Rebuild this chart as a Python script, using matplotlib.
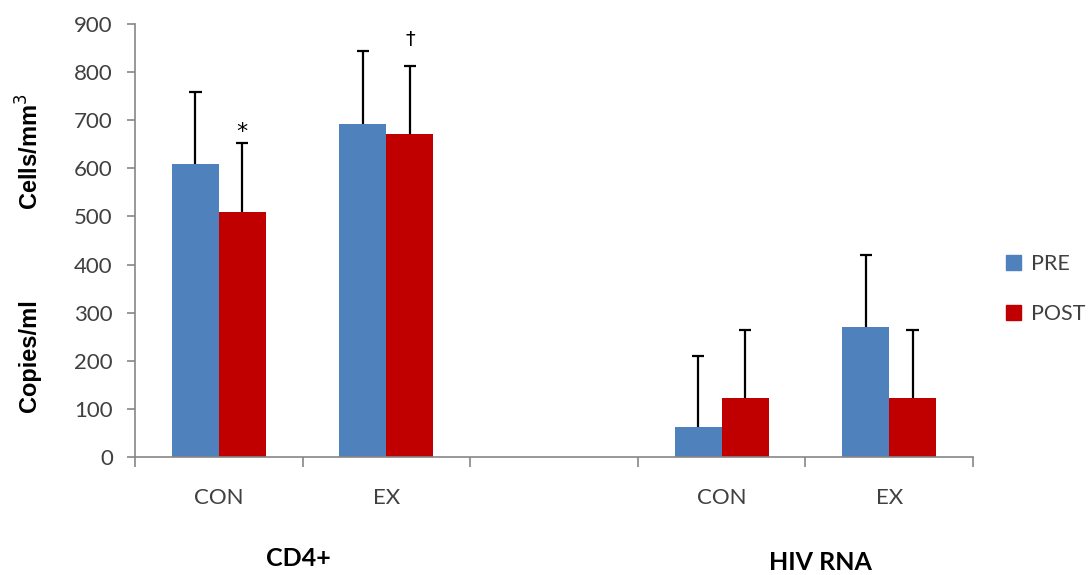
import matplotlib
matplotlib.use("Agg")
import matplotlib.pyplot as plt
from matplotlib.patches import Patch
import numpy as np

categories = ["CON", "EX", "", "CON", "EX"]
pre_values = [610, 693, np.nan, 63, 270]
post_values = [510, 672, np.nan, 123, 123]
pre_err = [148, 150, np.nan, 147, 150]
post_err = [142, 141, np.nan, 140, 140]
y_ticks = [0, 100, 200, 300, 400, 500, 600, 700, 800, 900]
group_labels = ["CD4+", "HIV RNA"]

BLUE = "#4F81BD"
RED = "#C00000"
GREY = "#868686"
TXT = "#404040"

fig = plt.figure(figsize=(10.88, 5.75), dpi=100)
ax = fig.add_axes([135/1088, 1-457/575, (973-135)/1088, (457-24)/575])

x = np.arange(len(categories))
w = 0.28
ax.bar(x - w/2, pre_values, w, color=BLUE, label="PRE")
ax.bar(x + w/2, post_values, w, color=RED, label="POST")

pre_top = np.array(pre_values) + np.array(pre_err)
post_top = np.array(post_values) + np.array(post_err)
cap = 0.037
for xs, vals, tops in [(x - w/2, pre_values, pre_top), (x + w/2, post_values, post_top)]:
    ok = ~np.isnan(tops)
    ax.vlines(xs[ok], np.array(vals)[ok], tops[ok], color="black", lw=1.6, zorder=3)
    ax.hlines(tops[ok], xs[ok] - cap, xs[ok] + cap, color="black", lw=1.6, zorder=3)

# significance marks
ax.annotate("*", (x[0] + w/2, post_top[0]), xytext=(0, 1), textcoords="offset points",
            ha="center", va="bottom", fontsize=16, color="black", family="DejaVu Sans")
ax.annotate("\u2020", (x[1] + w/2, post_top[1]), xytext=(0, 12), textcoords="offset points",
            ha="center", va="bottom", fontsize=14, color="black", family="DejaVu Sans")

ax.set_xlim(-0.5, len(categories) - 0.5)
ax.set_ylim(0, 900)
ax.set_yticks(y_ticks)
ax.set_yticklabels([str(v) for v in y_ticks], fontsize=16, color=TXT, family="Lato")
ax.set_xticks(x)
ax.set_xticklabels(categories, fontsize=16, color=TXT, family="Lato")
ax.set_xticks(np.arange(len(categories) + 1) - 0.5, minor=True)
ax.tick_params(axis="x", which="major", length=0, pad=22)
ax.tick_params(axis="x", which="minor", length=7, color=GREY, width=1.2)
ax.tick_params(axis="y", length=6, color=GREY, width=1.2, pad=10)

for s in ["top", "right"]:
    ax.spines[s].set_visible(False)
for s in ["left", "bottom"]:
    ax.spines[s].set_color(GREY)
    ax.spines[s].set_linewidth(1.2)

# y labels
fig.text(30/1088, 1-152/575, "Cells/mm$^3$", rotation=90, ha="center", va="center",
         fontsize=17, fontweight="bold", family="Liberation Sans")
fig.text(30/1088, 1-356/575, "Copies/ml", rotation=90, ha="center", va="center",
         fontsize=17, fontweight="bold", family="Liberation Sans")

# group labels
fig.text(298/1088, 1-558/575, group_labels[0], ha="center", va="center",
         fontsize=18, fontweight="bold", family="Lato")
fig.text(820/1088, 1-563/575, group_labels[1], ha="center", va="center",
         fontsize=18, fontweight="bold", family="Lato")

handles = [Patch(color=BLUE, label="PRE"), Patch(color=RED, label="POST")]
leg = fig.legend(handles=handles, loc="center left", bbox_to_anchor=(0.917, 1-289/575),
                 frameon=False, handlelength=0.7, handleheight=0.7, labelspacing=1.4,
                 handletextpad=0.45, borderaxespad=0.2, borderpad=0.2,
                 prop={"family": "Lato", "size": 15.5})
for t in leg.get_texts():
    t.set_color(TXT)

fig.savefig("out.png", dpi=100)
